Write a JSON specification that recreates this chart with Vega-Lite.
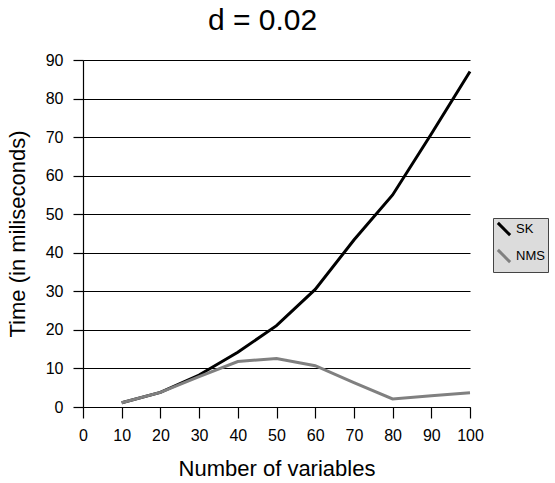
{
  "$schema": "https://vega.github.io/schema/vega-lite/v6.json",
  "autosize": "none",
  "width": 387,
  "height": 347,
  "padding": {"left": 83, "top": 60, "right": 85, "bottom": 76},
  "background": "white",
  "title": {"text": "d = 0.02", "fontSize": 30, "font": "Liberation Sans", "fontWeight": "normal", "color": "black", "anchor": "middle", "dx": -14, "offset": 16},
  "config": {
    "font": "Liberation Sans",
    "view": {"stroke": null},
    "axis": {"labelFont": "Liberation Sans", "titleFont": "Liberation Sans", "labelColor": "black", "titleColor": "black", "domainColor": "black", "tickColor": "black", "labelFontSize": 16, "titleFontSize": 22, "titleFontWeight": "normal", "domainWidth": 1.2, "tickWidth": 1.2}
  },
  "data": {"values": [
    {"n": 10, "series": "SK", "t": 1.1},
    {"n": 20, "series": "SK", "t": 3.8},
    {"n": 30, "series": "SK", "t": 8.3},
    {"n": 40, "series": "SK", "t": 14.2},
    {"n": 50, "series": "SK", "t": 21.1},
    {"n": 60, "series": "SK", "t": 30.5},
    {"n": 70, "series": "SK", "t": 43.3},
    {"n": 80, "series": "SK", "t": 55.0},
    {"n": 90, "series": "SK", "t": 70.8},
    {"n": 100, "series": "SK", "t": 87.0},
    {"n": 10, "series": "NMS", "t": 1.1},
    {"n": 20, "series": "NMS", "t": 3.8},
    {"n": 30, "series": "NMS", "t": 7.9},
    {"n": 40, "series": "NMS", "t": 11.8},
    {"n": 50, "series": "NMS", "t": 12.6},
    {"n": 60, "series": "NMS", "t": 10.7},
    {"n": 70, "series": "NMS", "t": 6.3},
    {"n": 80, "series": "NMS", "t": 2.1},
    {"n": 90, "series": "NMS", "t": 2.9},
    {"n": 100, "series": "NMS", "t": 3.7}
  ]},
  "mark": {"type": "line", "strokeWidth": 3},
  "encoding": {
    "x": {"field": "n", "type": "quantitative", "scale": {"domain": [0, 100], "nice": false},
      "axis": {"title": "Number of variables", "values": [0,10,20,30,40,50,60,70,80,90,100], "grid": false, "tickSize": 11, "labelPadding": 9, "titlePadding": 15, "labelFlush": false, "labelOverlap": false}},
    "y": {"field": "t", "type": "quantitative", "scale": {"domain": [0, 90], "nice": false},
      "axis": {"title": "Time (in miliseconds)", "values": [0,10,20,30,40,50,60,70,80,90], "grid": true, "gridColor": "black", "gridOpacity": 1, "gridWidth": 1.2, "tickSize": 10, "labelPadding": 10, "titlePadding": 16, "labelFlush": false, "labelOverlap": false}},
    "color": {"field": "series", "type": "nominal", "sort": ["SK", "NMS"],
      "scale": {"domain": ["SK", "NMS"], "range": ["black", "#808080"]},
      "legend": {"title": null, "orient": "none", "legendX": 410, "legendY": 158, "fillColor": "#dcdcdc", "strokeColor": "#444444", "padding": 3, "symbolType": "M-1,-1L1,1", "symbolStrokeWidth": 3, "symbolSize": 150, "labelFontSize": 13, "labelColor": "black", "labelFont": "Liberation Sans", "rowPadding": 1, "labelOffset": 4}}
  }
}
